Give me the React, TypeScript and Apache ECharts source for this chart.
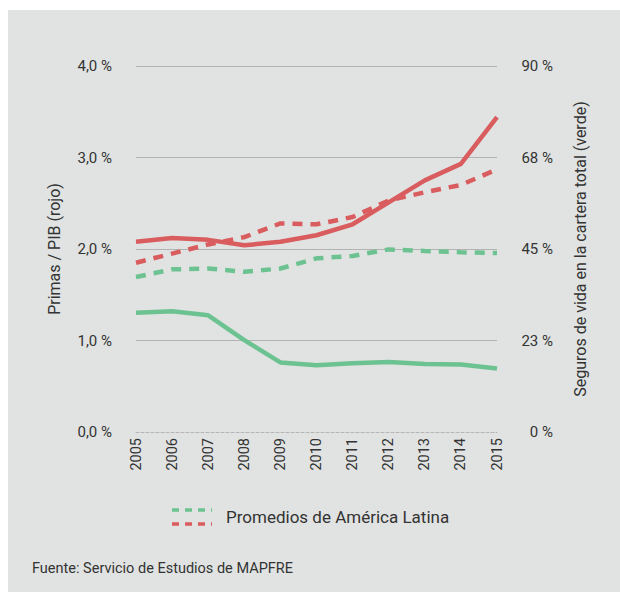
import React, { useEffect, useRef } from "react";
import * as echarts from "echarts";

const years = ["2005", "2006", "2007", "2008", "2009", "2010", "2011", "2012", "2013", "2014", "2015"];
const primasPib = [2.08, 2.12, 2.1, 2.04, 2.08, 2.15, 2.27, 2.51, 2.75, 2.93, 3.44];
const primasPibLatam = [1.85, 1.95, 2.05, 2.13, 2.28, 2.27, 2.35, 2.53, 2.62, 2.7, 2.87];
const vidaCartera = [29.3, 29.7, 28.7, 22.6, 17.1, 16.4, 16.9, 17.2, 16.7, 16.6, 15.6];
const vidaCarteraLatam = [38.1, 40.0, 40.2, 39.4, 40.2, 42.7, 43.3, 44.9, 44.5, 44.2, 44.0];
const leftGridValues = [1, 2, 3, 4];

const RED = "#d95c5e";
const GREEN = "#6cc391";
const FONT = "Roboto, 'Noto Sans', sans-serif";
const TXT = "#333333";

export default function App() {
  const ref = useRef<HTMLDivElement>(null);
  useEffect(() => {
    document.body.style.margin = "0";
    if (!ref.current) return;
    const chart = echarts.init(ref.current, undefined, { renderer: "svg" });
    chart.setOption({
      animation: false,
      backgroundColor: "#ffffff",
      textStyle: { fontFamily: FONT },
      graphic: [
        { type: "rect", z: -10, shape: { x: 8, y: 10, width: 612, height: 582 }, style: { fill: "#e1e3e2" } },
        { type: "line", shape: { x1: 172, y1: 510, x2: 212, y2: 510 }, style: { stroke: GREEN, lineWidth: 3.5, lineDash: [7, 6] } },
        { type: "line", shape: { x1: 172, y1: 524, x2: 212, y2: 524 }, style: { stroke: RED, lineWidth: 3.5, lineDash: [7, 6] } },
        { type: "text", x: 226, y: 517, style: { text: "Promedios de América Latina", fill: TXT, fontSize: 17, fontFamily: FONT, verticalAlign: "middle" } },
        { type: "text", x: 32, y: 568, style: { text: "Fuente: Servicio de Estudios de MAPFRE", fill: TXT, fontSize: 14.5, fontFamily: FONT, verticalAlign: "middle" } },
      ],
      grid: { left: 136, right: 123, top: 66, bottom: 160, containLabel: false },
      xAxis: {
        type: "category",
        data: years,
        boundaryGap: false,
        axisLine: { show: true, lineStyle: { color: "#b5b5b5", type: [3, 2], width: 1 } },
        axisTick: { show: false },
        axisLabel: { rotate: 90, color: TXT, fontSize: 14.5, margin: 6, fontFamily: FONT },
        splitLine: { show: false },
      },
      yAxis: [
        {
          type: "value",
          min: 0,
          max: 4,
          interval: 1,
          position: "left",
          name: "Primas / PIB (rojo)",
          nameLocation: "middle",
          nameRotate: 90,
          nameGap: 74,
          nameTextStyle: { color: TXT, fontSize: 16, fontFamily: FONT },
          axisLine: { show: false },
          axisTick: { show: false },
          splitLine: { show: false },
          axisLabel: {
            color: TXT,
            fontSize: 15,
            margin: 24,
            fontFamily: FONT,
            formatter: (v: number) => v.toFixed(1).replace(".", ",") + " %",
          },
        },
        {
          type: "value",
          min: 0,
          max: 90,
          interval: 22.5,
          position: "right",
          name: "Seguros de vida en la cartera total (verde)",
          nameLocation: "middle",
          nameRotate: 90,
          nameGap: 75,
          nameTextStyle: { color: TXT, fontSize: 16, fontFamily: FONT },
          axisLine: { show: false },
          axisTick: { show: false },
          splitLine: { show: false },
          axisLabel: {
            color: TXT,
            fontSize: 15,
            margin: 56,
            align: "right",
            fontFamily: FONT,
            formatter: (v: number) => Math.round(v) + " %",
          },
        },
      ],
      series: [
        {
          type: "line",
          yAxisIndex: 0,
          data: primasPibLatam,
          showSymbol: false,
          symbol: "none",
          lineStyle: { color: RED, width: 4.5, type: [10, 8] },
          z: 3,
          markLine: {
            silent: true,
            symbol: ["none", "none"],
            label: { show: false },
            lineStyle: { color: "#b3b3b3", type: "solid", width: 1 },
            data: leftGridValues.map((v) => ({ yAxis: v })),
            z: 1,
          },
        },
        {
          type: "line",
          yAxisIndex: 1,
          data: vidaCarteraLatam,
          symbol: "none",
          lineStyle: { color: GREEN, width: 4.5, type: [10, 8] },
          z: 3,
        },
        {
          type: "line",
          yAxisIndex: 1,
          data: vidaCartera,
          symbol: "none",
          lineStyle: { color: GREEN, width: 4.5 },
          z: 4,
        },
        {
          type: "line",
          yAxisIndex: 0,
          data: primasPib,
          symbol: "none",
          lineStyle: { color: RED, width: 4.5 },
          z: 5,
        },
      ],
    });
    return () => chart.dispose();
  }, []);
  return <div ref={ref} style={{ width: 620, height: 592 }} />;
}
